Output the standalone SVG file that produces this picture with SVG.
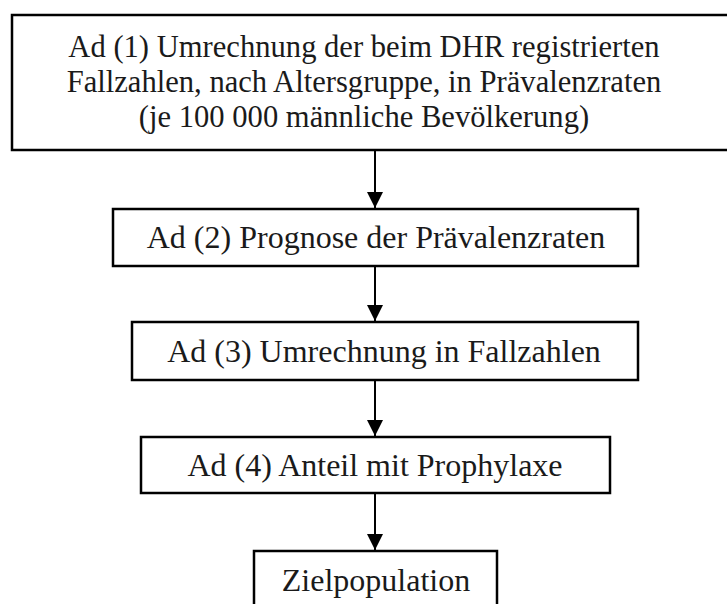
<svg xmlns="http://www.w3.org/2000/svg" width="727" height="604" viewBox="0 0 727 604">
<style>
.box{fill:#fff;stroke:#000;stroke-width:2.5}
.t{font-family:"Liberation Serif","Times New Roman",serif;font-size:32px;fill:#1a1a1a;text-anchor:middle}
.t1{font-size:30.6px}
.c{stroke:#000;stroke-width:2;fill:none}
</style>
<defs>
<marker id="ah" viewBox="0 0 16 18" refX="16" refY="9" markerWidth="16" markerHeight="18" markerUnits="userSpaceOnUse" orient="auto">
<path d="M0,1 L16,9 L0,17 Z" fill="#000"/>
</marker>
</defs>
<rect width="727" height="604" fill="#fff"/>
<g id="n1">
<rect class="box" x="12" y="15" width="730" height="135"/>
<text class="t t1" x="364" y="57">Ad (1) Umrechnung der beim DHR registrierten</text>
<text class="t t1" x="364" y="92">Fallzahlen, nach Altersgruppe, in Prävalenzraten</text>
<text class="t t1" x="364" y="127">(je 100 000 männliche Bevölkerung)</text>
</g>
<g id="n2">
<rect class="box" x="113" y="209" width="525" height="57"/>
<text class="t" x="376" y="248">Ad (2) Prognose der Prävalenzraten</text>
</g>
<g id="n3">
<rect class="box" x="132" y="322" width="506" height="58"/>
<text class="t" x="384" y="362">Ad (3) Umrechnung in Fallzahlen</text>
</g>
<g id="n4">
<rect class="box" x="141" y="437" width="469" height="56"/>
<text class="t" x="375" y="476">Ad (4) Anteil mit Prophylaxe</text>
</g>
<g id="n5">
<rect class="box" x="254" y="551" width="243" height="70"/>
<text class="t" x="376" y="591">Zielpopulation</text>
</g>
<g id="connectors">
<line class="c" x1="375" y1="151" x2="375" y2="208" marker-end="url(#ah)"/>
<line class="c" x1="375" y1="267" x2="375" y2="321" marker-end="url(#ah)"/>
<line class="c" x1="375" y1="381" x2="375" y2="436" marker-end="url(#ah)"/>
<line class="c" x1="375" y1="494" x2="375" y2="550" marker-end="url(#ah)"/>
</g>
</svg>
